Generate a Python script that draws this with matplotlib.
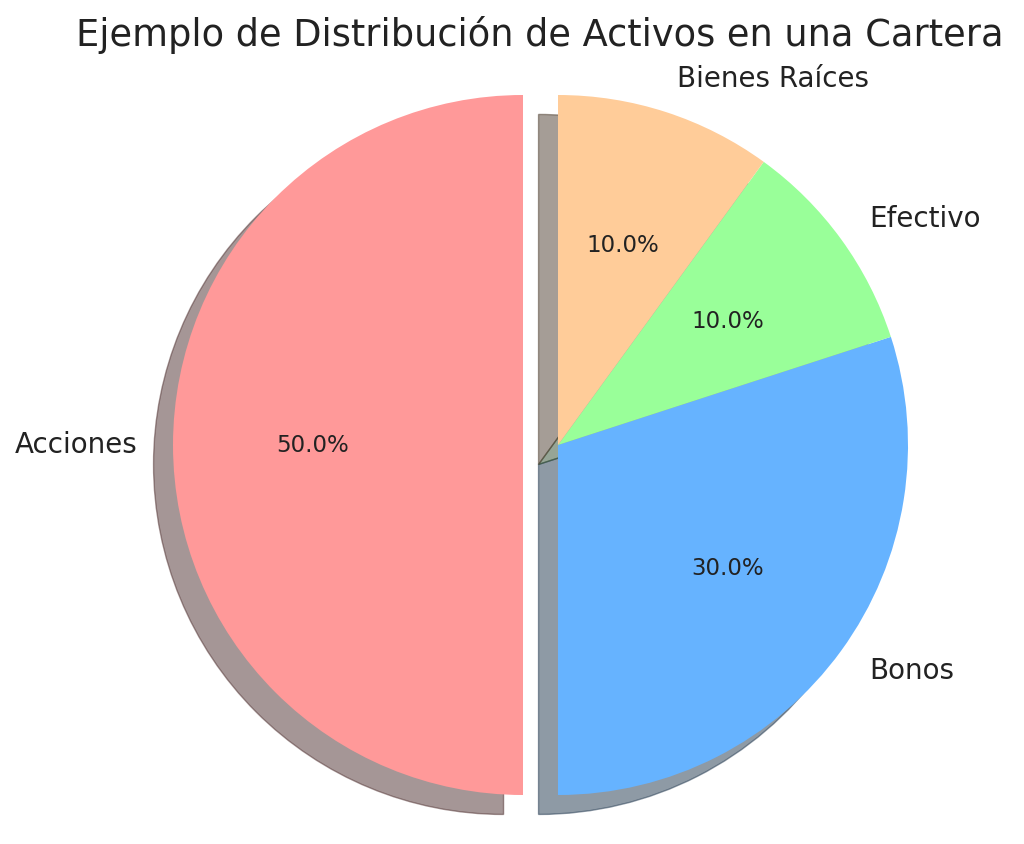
import matplotlib
matplotlib.use("Agg")
import matplotlib.pyplot as plt

labels = ['Acciones', 'Bonos', 'Efectivo', 'Bienes Raíces']
sizes = [50, 30, 10, 10]
colors = ['#ff9999', '#66b3ff', '#99ff99', '#ffcc99']
explode = (0.1, 0, 0, 0)

fig = plt.figure(figsize=(10.24, 8.44), dpi=100)
ax = fig.add_axes([120.5/1024, -38.5/844, 875/1024, 875/844])
wedges, texts, autotexts = ax.pie(sizes, explode=explode, labels=labels, colors=colors,
                                  autopct='%1.1f%%', startangle=90,
                                  shadow={'ox': -0.04, 'oy': -0.04},
                                  textprops={'fontsize': 20, 'color': '#222222'})
for t in autotexts:
    t.set_fontsize(16.5)
ax.set_aspect('equal')
ax.set_xlim(-1.25, 1.25)
ax.set_ylim(-1.25, 1.25)
fig.text(540/1024, 1 - 35/844, 'Ejemplo de Distribución de Activos en una Cartera',
         ha='center', va='center', fontsize=26.5, color='#222222')
fig.savefig('out.png', dpi=100)
